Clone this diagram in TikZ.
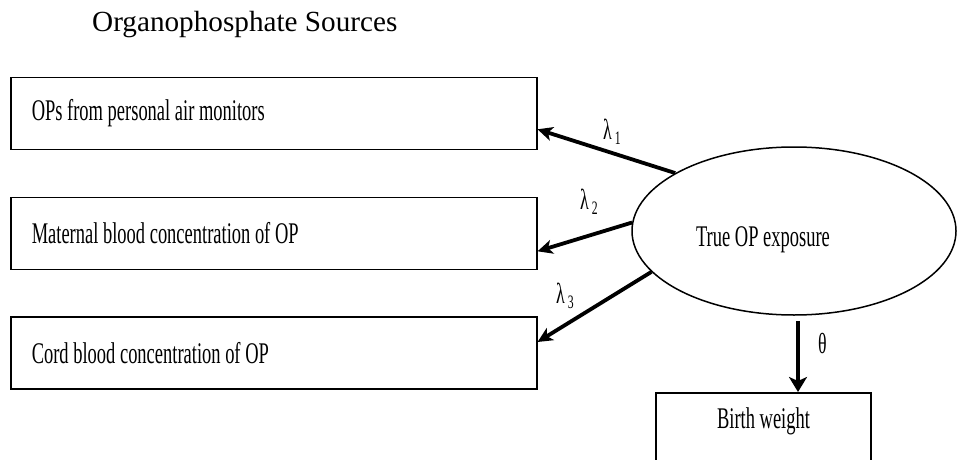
\documentclass[tikz,border=0pt]{standalone}
\usepackage{fontspec}
\setmainfont{Liberation Serif}
\newfontfamily\narrowserif[FakeStretch=0.616]{Liberation Serif}
\usetikzlibrary{shapes.geometric,arrows.meta}

\tikzset{
  bodyfont/.style={font=\narrowserif\fontsize{30}{36}\selectfont},
  srcbox/.style={draw, line width=1.6pt, bodyfont, minimum width=526pt,
    minimum height=72pt, inner xsep=21pt},
  latent/.style={draw, ellipse, line width=1.5pt, inner sep=0pt,
    minimum width=324pt, minimum height=168pt},
  outbox/.style={draw, line width=1.6pt, bodyfont, minimum width=215pt,
    inner ysep=15pt, text height=20.5pt, text depth=60pt, anchor=north},
  plaintext/.style={bodyfont, inner sep=0pt},
  coef/.style={font=\narrowserif\fontsize{29}{34}\selectfont, inner sep=0pt, anchor=base west},
  loading/.style={line width=3.8pt, -{Stealth[length=15pt,width=14pt,inset=4pt]}},
  effect/.style={line width=3.8pt, -{Stealth[length=15pt,width=18pt,inset=4pt]}},
}

% left-set line of text filling the inner width of a source box
\newcommand{\boxline}[1]{\makebox[484pt][l]{#1}}
% lowered index after a coefficient symbol
\newcommand{\subidx}[1]{\kern3pt\raisebox{-5pt}{\fontsize{19}{21}\selectfont #1}}

\begin{document}
\begin{tikzpicture}[x=1pt, y=-1pt]
  \path[use as bounding box] (0,0) rectangle (958,460);
  \clip (0,0) rectangle (958,460);

  % heading
  \node[anchor=base west, inner sep=0pt, font=\fontsize{29.2}{34}\selectfont]
    (title) at (92,32) {Organophosphate Sources};

  % measured sources
  \node[srcbox] (air)  at (273.75,113.3) {\boxline{OPs from personal air monitors}};
  \node[srcbox] (mat)  at (273.75,233.3) {\boxline{Maternal blood concentration of OP}};
  \node[srcbox] (cord) at (273.75,353)   {\boxline{Cord blood concentration of OP}};

  % latent exposure
  \node[latent] (te) at (794,231) {};
  \node[plaintext, anchor=base] (tetext) at ([xshift=-31pt,yshift=-15pt]te.center) {True OP exposure};

  % outcome
  \node[outbox] (bw) at (763.5,392) {Birth weight};

  % loadings
  \draw[loading] (te.154) -- ([yshift=-16pt]air.east);
  \draw[loading] (te.177) -- ([yshift=-18pt]mat.east);
  \draw[loading] (te.196) -- ([yshift=11pt]cord.east);

  \node[coef] (l1) at (603,139) {λ\subidx{1}};
  \node[coef] (l2) at (580,209) {λ\subidx{2}};
  \node[coef] (l3) at (556,303) {λ\subidx{3}};

  % structural effect
  \coordinate (ts) at ([xshift=4pt,yshift=-5pt]te.south);
  \draw[effect] (ts) -- (ts |- bw.north);
  \node[coef] (th) at (818,353) {θ};
\end{tikzpicture}
\end{document}
